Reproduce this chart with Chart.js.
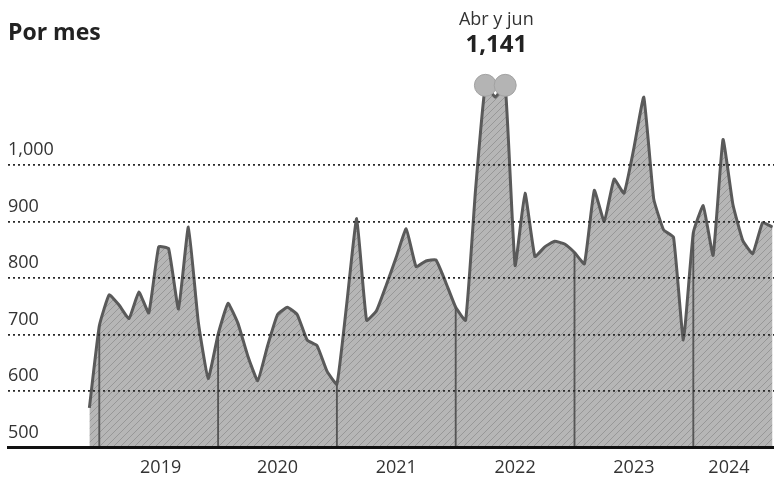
<!DOCTYPE html>
<html>
<head>
<meta charset="utf-8">
<script src="https://cdn.jsdelivr.net/npm/chart.js@4/dist/chart.umd.min.js"></script>
<style>
  html, body { margin: 0; padding: 0; background: #ffffff; }
  #wrap { position: relative; width: 774px; height: 484px; }
  canvas { display: block; }
</style>
</head>
<body>
<div id="wrap"><canvas id="c" width="774" height="484"></canvas></div>
<script>
// ---- Data (monthly, Dec 2018 .. Sep 2024) ----
const years = ['2019', '2020', '2021', '2022', '2023', '2024'];
const v2018 = [570]; // Dec
const v2019 = [715, 770, 752, 728, 775, 738, 855, 852, 745, 890, 722, 622];
const v2020 = [700, 755, 720, 662, 618, 680, 735, 748, 735, 690, 680, 635];
const v2021 = [612, 755, 905, 725, 742, 788, 837, 887, 820, 830, 832, 792];
const v2022 = [748, 725, 955, 1141, 1120, 1141, 822, 950, 838, 855, 865, 860];
const v2023 = [845, 825, 955, 900, 975, 950, 1030, 1120, 940, 885, 872, 690];
const v2024 = [880, 928, 840, 1045, 930, 866, 843, 898, 890];
const yTicks = [500, 600, 700, 800, 900, 1000];
const title = 'Por mes';
const noteLabel = 'Abr y jun';
const noteValue = '1,141';
const highlightMonths = ['2022-04', '2022-06'];

// ---- Build series ----
const values = [].concat(v2018, v2019, v2020, v2021, v2022, v2023, v2024);
const months = ['2018-12'];
years.forEach(y => {
  for (let m = 1; m <= 12; m++) months.push(y + '-' + String(m).padStart(2, '0'));
});
months.length = values.length;
const points = values.map((v, i) => ({ x: i, y: v }));
const janIdx = months.map((m, i) => m.endsWith('-01') ? i : -1).filter(i => i >= 0);
const sepBars = janIdx.map(i => ({ x: i, y: [500, values[i]] }));
const hiIdx = highlightMonths.map(m => months.indexOf(m));
// tick position of each year label (month index)
const yearTickIdx = [7.2, 19, 31, 43, 55, 64.6];

// ---- hatch pattern ----
function makePattern() {
  const p = document.createElement('canvas');
  p.width = 7; p.height = 7;
  const g = p.getContext('2d');
  g.fillStyle = '#b6b6b6';
  g.fillRect(0, 0, 7, 7);
  g.strokeStyle = '#979797';
  g.lineWidth = 1;
  g.beginPath();
  g.moveTo(-1, 8); g.lineTo(8, -1);
  g.stroke();
  return document.getElementById('c').getContext('2d').createPattern(p, 'repeat');
}

const textPlugin = {
  id: 'texts',
  afterDraw(chart) {
    const ctx = chart.ctx;
    const xs = chart.scales.x, ys = chart.scales.y;
    ctx.save();
    ctx.fillStyle = '#222';
    ctx.textBaseline = 'middle';
    ctx.textAlign = 'left';
    ctx.font = '700 23px "Open Sans", sans-serif';
    ctx.fillText(title, 8, 33);
    const cx = (xs.getPixelForValue(hiIdx[0]) + xs.getPixelForValue(hiIdx[1])) / 2;
    const py = ys.getPixelForValue(values[hiIdx[0]]);
    ctx.textAlign = 'center';
    ctx.fillStyle = '#333';
    ctx.font = '400 18px "Open Sans", sans-serif';
    ctx.fillText(noteLabel, cx + 1, py - 65);
    ctx.fillStyle = '#222';
    ctx.font = '700 24px "Open Sans", sans-serif';
    ctx.fillText(noteValue, cx + 1, py - 40);
    ctx.restore();
  }
};

new Chart(document.getElementById('c'), {
  data: {
    datasets: [
      {
        type: 'bar',
        data: sepBars,
        backgroundColor: '#555',
        barThickness: 1.2,
        order: 1
      },
      {
        type: 'line',
        data: points,
        borderColor: '#5a5a5a',
        borderWidth: 3,
        backgroundColor: makePattern(),
        fill: 'origin',
        tension: 0.12,
        pointRadius: ctx => hiIdx.includes(ctx.dataIndex) ? 11 : 0,
        pointHoverRadius: 0,
        pointBackgroundColor: '#b4b4b4',
        pointBorderColor: '#a2a2a2',
        pointBorderWidth: 1,
        order: 2
      }
    ]
  },
  options: {
    responsive: false,
    animation: false,
    events: [],
    layout: { padding: { left: 8, right: 0, top: 52, bottom: -5 } },
    plugins: { legend: { display: false }, tooltip: { enabled: false } },
    scales: {
      x: {
        type: 'linear',
        offset: false,
        min: -8.22,
        max: 69.15,
        grid: { display: false, drawTicks: false, offset: false },
        border: { display: true, color: '#111', width: 3, z: 2 },
        afterBuildTicks: axis => { axis.ticks = yearTickIdx.map(v => ({ value: v })); },
        ticks: {
          autoSkip: false,
          maxRotation: 0,
          padding: 10,
          color: '#333',
          font: { family: '"Open Sans", sans-serif', size: 18 },
          callback: (val, i) => years[i]
        }
      },
      y: {
        min: 500,
        max: 1200,
        afterBuildTicks: axis => { axis.ticks = yTicks.map(v => ({ value: v })); },
        grid: {
          drawTicks: false,
          z: 1,
          lineWidth: 1.8,
          color: ctx => (ctx.tick && ctx.tick.value > 500) ? '#2a2a2a' : 'rgba(0,0,0,0)'
        },
        border: { display: false, dash: [2, 3] },
        ticks: {
          mirror: true,
          padding: 0,
          labelOffset: -15,
          color: '#333',
          font: { family: '"Open Sans", sans-serif', size: 18 },
          callback: v => v.toLocaleString('en-US')
        }
      }
    }
  },
  plugins: [textPlugin]
});
</script>
</body>
</html>
